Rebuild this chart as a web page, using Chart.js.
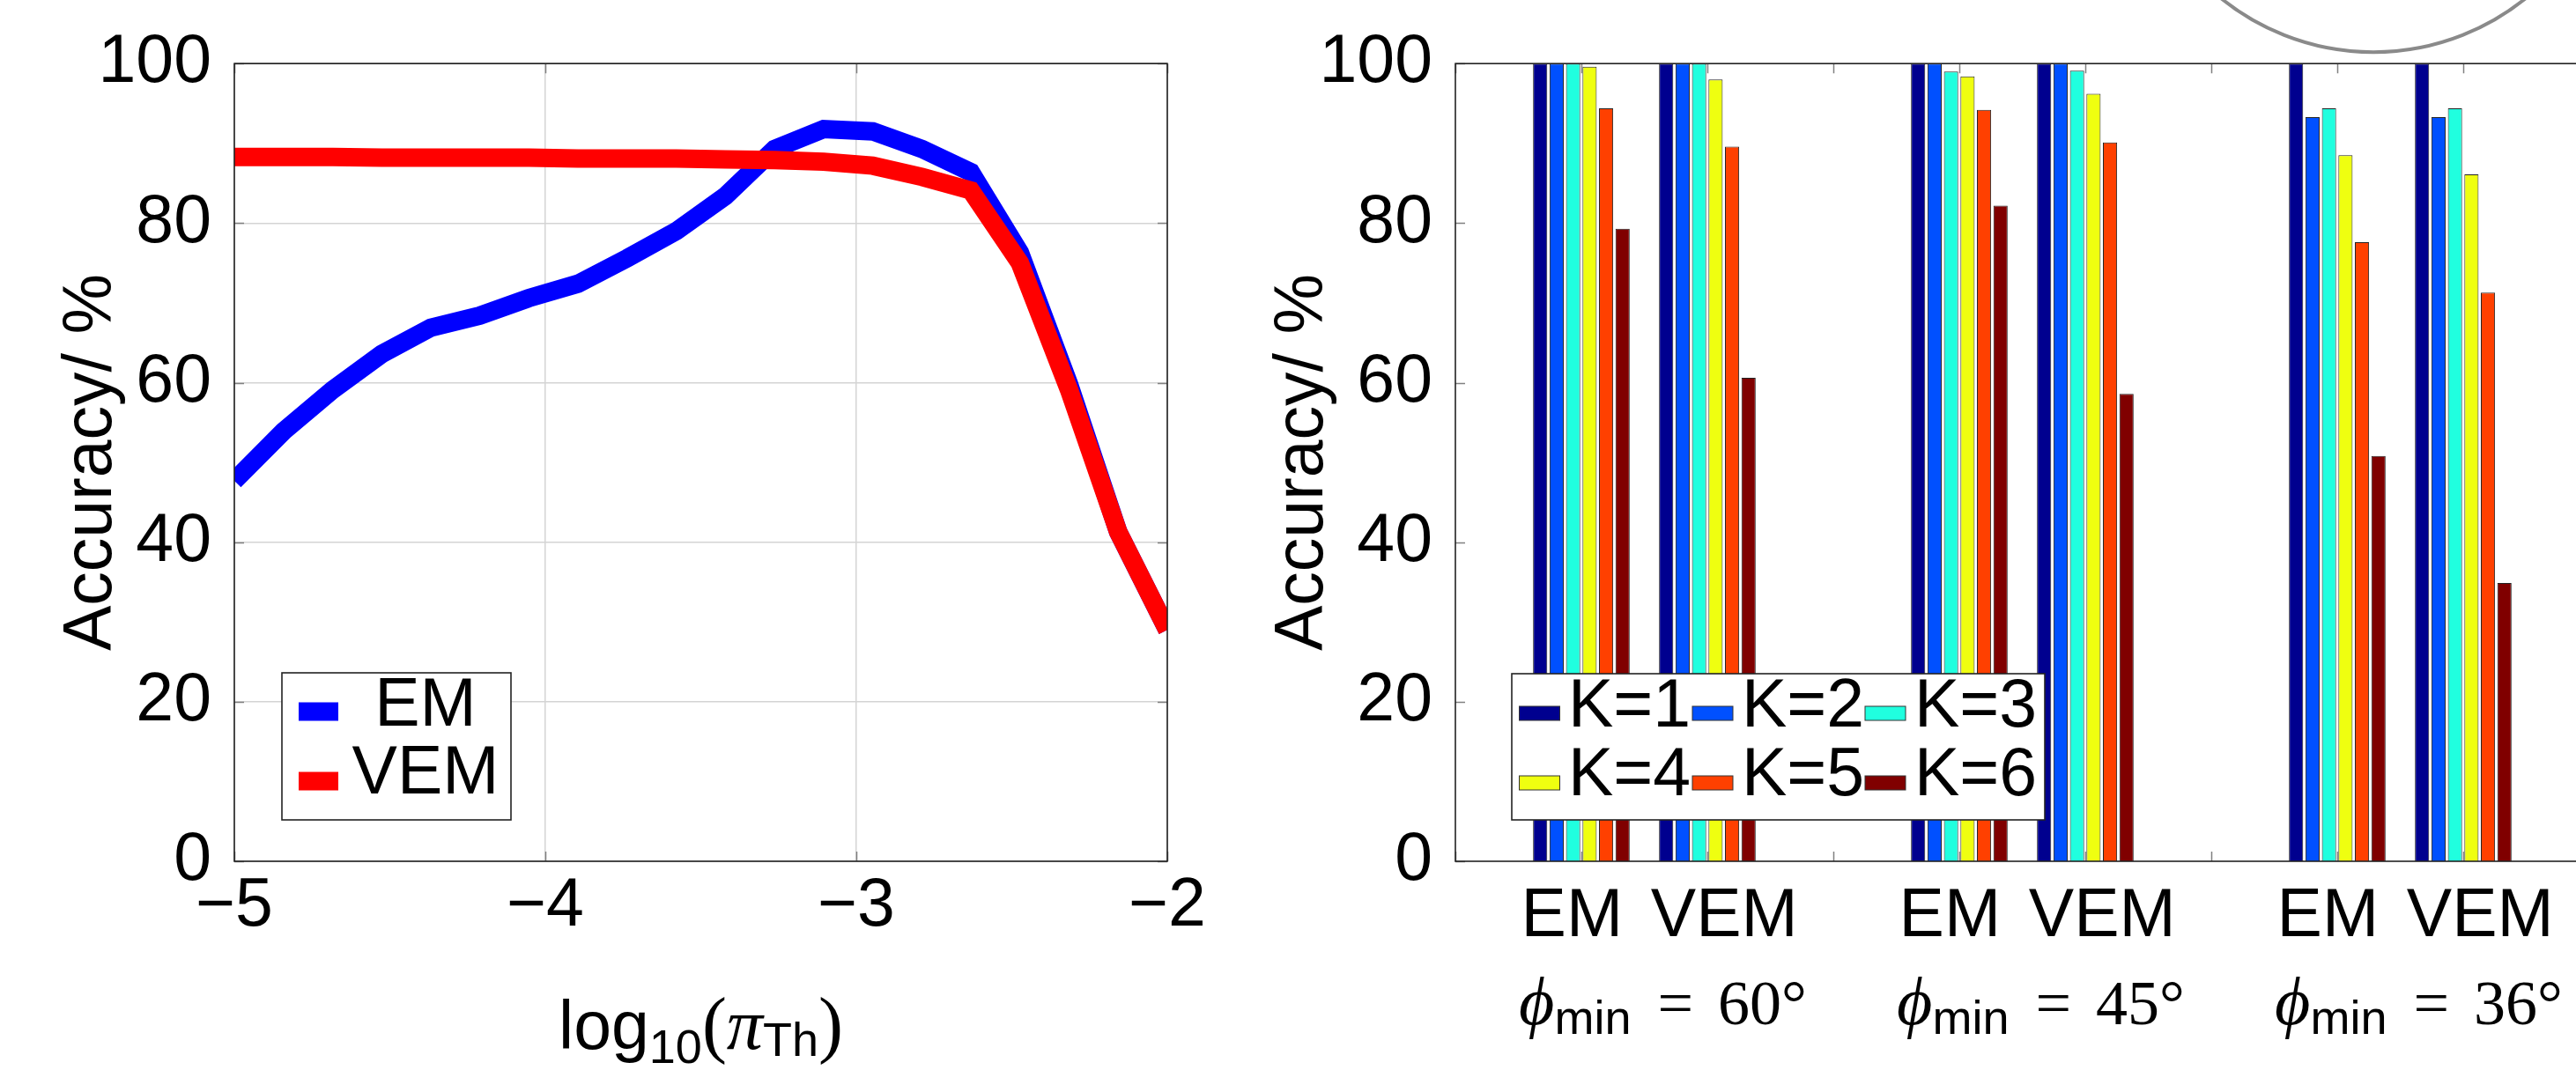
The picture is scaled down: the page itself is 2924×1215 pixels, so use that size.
<!DOCTYPE html>
<html><head><meta charset="utf-8">
<script src="https://cdn.jsdelivr.net/npm/chart.js@4.4.1/dist/chart.umd.min.js"></script>
<style>
html,body{margin:0;padding:0;background:#fff;overflow:hidden;width:2924px;height:1215px;}
#wrap{position:relative;width:2924px;height:1215px;overflow:hidden;background:#fff;}
canvas{position:absolute;top:0;}
#c1{left:0;}
#c2{left:1400px;}
</style></head>
<body><div id="wrap"><canvas id="c1" width="1400" height="1215"></canvas><canvas id="c2" width="1600" height="1215"></canvas></div>
<script>
// ---------- Left chart data ----------
const logPi  = [-5, -4.842, -4.684, -4.526, -4.368, -4.211, -4.053, -3.895, -3.737, -3.579, -3.421, -3.263, -3.105, -2.947, -2.789, -2.632, -2.474, -2.316, -2.158, -2];
const emAcc  = [47.7, 53.9, 59.1, 63.6, 66.9, 68.4, 70.6, 72.4, 75.6, 79.0, 83.4, 89.3, 91.8, 91.5, 89.3, 86.4, 76.3, 59.8, 41.3, 29.0];
const vemAcc = [88.3, 88.3, 88.3, 88.2, 88.2, 88.2, 88.2, 88.1, 88.1, 88.1, 88.0, 87.9, 87.7, 87.2, 85.8, 84.1, 75.0, 59.1, 41.3, 29.0];
const logTicks = [-5, -4, -3, -2];
const accTicks = [0, 20, 40, 60, 80, 100];
const lineLabels = ['EM', 'VEM'];
const lineColors = ['#0000ff', '#ff0000'];

// ---------- Right chart data ----------
const methods = ['', 'EM', 'VEM', '', 'EM', 'VEM', '', 'EM', 'VEM', ''];
const phiMin  = ['60°', '45°', '36°'];
const kLabels = ['K=1', 'K=2', 'K=3', 'K=4', 'K=5', 'K=6'];
const kColors = ['#00008f', '#0050ff', '#20ffdf', '#efff10', '#ff4000', '#800000'];
const accK1 = [null, 100, 100, 0, 100, 100, 0, 100, 100, null];
const accK2 = [null, 100, 100, 0, 100, 100, 0, 93.3, 93.3, null];
const accK3 = [null, 100, 100, 0, 99.0, 99.1, 0, 94.4, 94.4, null];
const accK4 = [null, 99.6, 98.0, 0, 98.4, 96.2, 0, 88.5, 86.1, null];
const accK5 = [null, 94.4, 89.6, 0, 94.2, 90.1, 0, 77.6, 71.3, null];
const accK6 = [null, 79.3, 60.6, 0, 82.2, 58.6, 0, 50.8, 34.9, null];
const accK = [accK1, accK2, accK3, accK4, accK5, accK6];

const SANS = "'Liberation Sans', Arial, Helvetica, sans-serif";
const SERIF = "'Liberation Serif', 'DejaVu Serif', 'Times New Roman', serif";
Chart.defaults.font.family = SANS;
Chart.defaults.color = '#000';

const fmtMinus = v => String(v).replace('-', '\u2212');

// frame + inward ticks
const framePlugin = {
  id: 'frame',
  afterDatasetsDraw(chart) {
    const {ctx, chartArea: ca, scales} = chart;
    ctx.save();
    ctx.strokeStyle = '#808080';
    ctx.lineWidth = 1.5;
    const L = 11;
    ctx.beginPath();
    scales.y.ticks.forEach((t, i) => {
      const y = Math.round(scales.y.getPixelForTick(i)) + 0.5;
      ctx.moveTo(ca.left, y); ctx.lineTo(ca.left + L, y);
      ctx.moveTo(ca.right, y); ctx.lineTo(ca.right - L, y);
    });
    scales.x.ticks.forEach((t, i) => {
      const x = Math.round(scales.x.getPixelForTick(i)) + 0.5;
      ctx.moveTo(x, ca.top); ctx.lineTo(x, ca.top + L);
      ctx.moveTo(x, ca.bottom); ctx.lineTo(x, ca.bottom - L);
    });
    ctx.stroke();
    ctx.strokeStyle = '#222';
    ctx.lineWidth = 1.6;
    ctx.strokeRect(ca.left, ca.top, ca.right - ca.left, ca.bottom - ca.top);
    ctx.restore();
  }
};

function drawRuns(ctx, runs, cx, baseY) {
  let total = 0;
  runs.forEach(r => { ctx.font = r.font; r.w = ctx.measureText(r.t).width; total += r.w + (r.gap || 0); });
  let x = cx - total / 2;
  ctx.textAlign = 'left';
  ctx.textBaseline = 'alphabetic';
  ctx.fillStyle = '#000';
  runs.forEach(r => { ctx.font = r.font; ctx.fillText(r.t, x, baseY + (r.dy || 0)); x += r.w + (r.gap || 0); });
}

// left: legend + x title
const leftDecor = {
  id: 'leftDecor',
  afterDraw(chart) {
    const {ctx, chartArea: ca} = chart;
    ctx.save();
    const bx = ca.left + 54, by = ca.bottom - 214, bw = 260, bh = 167;
    ctx.fillStyle = '#fff';
    ctx.fillRect(bx, by, bw, bh);
    ctx.strokeStyle = '#222'; ctx.lineWidth = 1.6;
    ctx.strokeRect(bx, by, bw, bh);
    const rowsText = [ca.bottom - 175, ca.bottom - 98];
    const rowsSample = [ca.bottom - 170, ca.bottom - 91];
    chart.data.datasets.forEach((ds, i) => {
      ctx.fillStyle = ds.borderColor;
      ctx.fillRect(ca.left + 73, rowsSample[i] - 10.5, 45, 21);
      ctx.fillStyle = '#000';
      ctx.font = '77px ' + SANS;
      ctx.textAlign = 'center'; ctx.textBaseline = 'middle';
      ctx.fillText(ds.label, ca.left + 217, rowsText[i]);
    });
    const cx = (ca.left + ca.right) / 2;
    drawRuns(ctx, [
      {t: 'log', font: '77px ' + SANS},
      {t: '10', font: '54px ' + SANS, dy: 16},
      {t: '(', font: '84px ' + SERIF},
      {t: 'π', font: 'italic 82px ' + SERIF},
      {t: 'Th', font: '54px ' + SANS, dy: 8},
      {t: ')', font: '84px ' + SERIF}
    ], cx, 1191);
    ctx.restore();
  }
};

new Chart(document.getElementById('c1'), {
  type: 'line',
  data: {
    datasets: lineLabels.map((lab, k) => ({
      label: lab,
      data: logPi.map((x, i) => ({x: x, y: (k === 0 ? emAcc : vemAcc)[i]})),
      borderColor: lineColors[k],
      backgroundColor: lineColors[k],
      borderWidth: 21,
      pointRadius: 0,
      tension: 0,
      fill: false,
      clip: 0,
      order: 2 - k
    }))
  },
  options: {
    responsive: false, animation: false, devicePixelRatio: 1,
    layout: {padding: {left: 0, right: 75, top: 71, bottom: 0}},
    plugins: {legend: {display: false}, tooltip: {enabled: false}},
    scales: {
      x: {
        type: 'linear', min: -5, max: -2,
        afterBuildTicks: s => { s.ticks = logTicks.map(v => ({value: v})); },
        afterFit: s => { s.height = 237; },
        grid: {color: '#d4d4d4', lineWidth: 1.5, drawTicks: false},
        border: {display: false},
        ticks: {padding: 6, font: {size: 77}, color: '#000', maxRotation: 0, callback: v => fmtMinus(v)}
      },
      y: {
        type: 'linear', min: 0, max: 100,
        afterBuildTicks: s => { s.ticks = accTicks.map(v => ({value: v})); },
        afterFit: s => { s.width = 266; },
        grid: {color: '#d4d4d4', lineWidth: 1.5, drawTicks: false},
        border: {display: false},
        ticks: {padding: 26, font: {size: 77}, color: '#000'},
        title: {display: true, text: 'Accuracy/ %', font: {size: 77}, color: '#000', padding: {top: 59, bottom: 0}}
      }
    }
  },
  plugins: [framePlugin, leftDecor]
});

// right: legend + group labels + circle
const rightDecor = {
  id: 'rightDecor',
  afterDraw(chart) {
    const {ctx, chartArea: ca, scales} = chart;
    ctx.save();
    ctx.strokeStyle = '#8a8a8a'; ctx.lineWidth = 4;
    ctx.beginPath();
    ctx.arc(ca.left + 1042, ca.top - 288, 275, 0, Math.PI * 2);
    ctx.stroke();
    const bx = ca.left + 64, by = ca.bottom - 213, bw = 605, bh = 166;
    ctx.fillStyle = '#fff';
    ctx.fillRect(bx, by, bw, bh);
    ctx.strokeStyle = '#222'; ctx.lineWidth = 1.6;
    ctx.strokeRect(bx, by, bw, bh);
    const colS = [8.5, 205, 401], colT = [64, 261, 457];
    const rowT = [ca.bottom - 174, ca.bottom - 96], rowS = [ca.bottom - 168, ca.bottom - 89];
    chart.data.datasets.forEach((ds, i) => {
      const r = Math.floor(i / 3), c = i % 3;
      ctx.fillStyle = ds.backgroundColor;
      ctx.fillRect(bx + colS[c], rowS[r] - 8, 46, 16);
      ctx.strokeStyle = '#333'; ctx.lineWidth = 1;
      ctx.strokeRect(bx + colS[c], rowS[r] - 8, 46, 16);
      ctx.fillStyle = '#000';
      ctx.font = '77px ' + SANS;
      ctx.textAlign = 'left'; ctx.textBaseline = 'middle';
      ctx.fillText(ds.label, bx + colT[c], rowT[r]);
    });
    let g = 0;
    chart.data.labels.forEach((lab, i) => {
      if (lab === 'EM' && chart.data.labels[i + 1] === 'VEM' && g < phiMin.length) {
        const mid = (scales.x.getPixelForTick(i) + scales.x.getPixelForTick(i + 1)) / 2 + 21;
        drawRuns(ctx, [
          {t: '\u03D5', font: 'italic 78px ' + SERIF},
          {t: 'min', font: '54px ' + SANS, dy: 11, gap: 30},
          {t: '=', font: '72px ' + SERIF, gap: 28},
          {t: phiMin[g], font: '72px ' + SERIF}
        ], mid, 1163);
        g++;
      }
    });
    ctx.restore();
  }
};

new Chart(document.getElementById('c2'), {
  type: 'bar',
  data: {
    labels: methods,
    datasets: kLabels.map((lab, k) => ({
      label: lab,
      data: accK[k],
      backgroundColor: kColors[k],
      borderColor: '#222',
      borderWidth: 1,
      categoryPercentage: 0.785,
      barPercentage: 0.86
    }))
  },
  options: {
    responsive: false, animation: false, devicePixelRatio: 1,
    layout: {padding: {left: 0, right: 61, top: 71, bottom: 0}},
    plugins: {legend: {display: false}, tooltip: {enabled: false}},
    scales: {
      x: {
        type: 'category', offset: false,
        afterFit: s => { s.height = 237; },
        grid: {display: false, drawTicks: false},
        border: {display: false},
        ticks: {
          padding: 18, font: {size: 77}, color: '#000', autoSkip: false, maxRotation: 0, minRotation: 0,
          callback: function (v) {
            const l = this.getLabelForValue(v);
            return l === 'EM' ? 'EM ' : (l === 'VEM' ? '\u2002VEM' : l);
          }
        }
      },
      y: {
        type: 'linear', min: 0, max: 100,
        afterBuildTicks: s => { s.ticks = accTicks.map(v => ({value: v})); },
        afterFit: s => { s.width = 252; },
        grid: {display: false, drawTicks: false},
        border: {display: false},
        ticks: {padding: 26, font: {size: 77}, color: '#000'},
        title: {display: true, text: 'Accuracy/ %', font: {size: 77}, color: '#000', padding: {top: 34, bottom: 0}}
      }
    }
  },
  plugins: [framePlugin, rightDecor]
});
</script>
</body></html>
